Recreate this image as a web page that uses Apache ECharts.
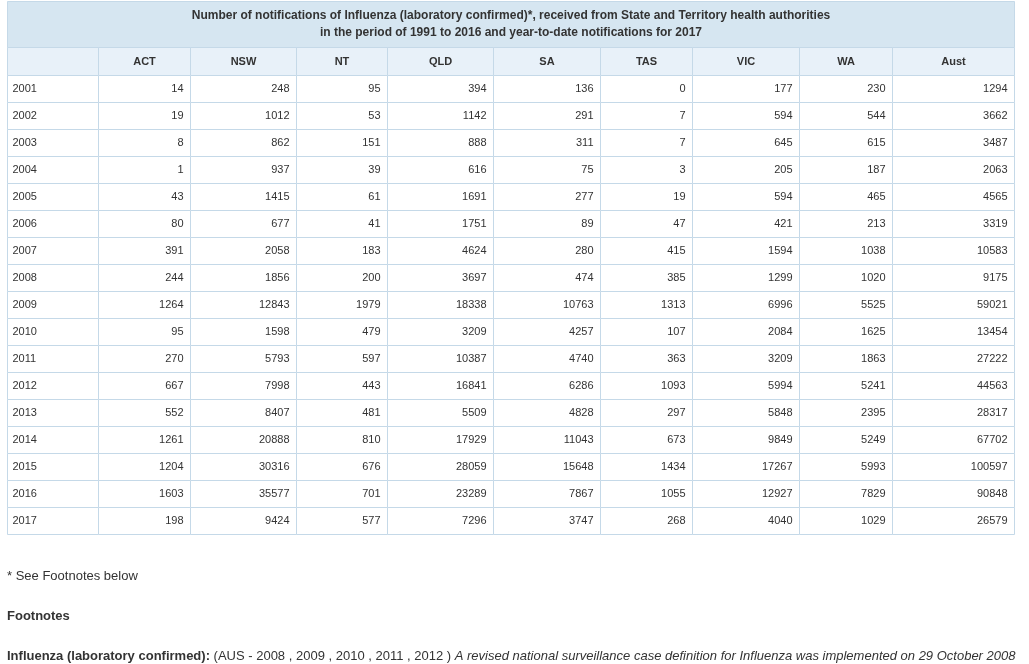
<!DOCTYPE html>
<html>
<head>
<meta charset="utf-8">
<script src="https://cdn.jsdelivr.net/npm/echarts@6/dist/echarts.min.js"></script>
<style>
  html, body { margin: 0; padding: 0; background: #fff; }
  #chart { width: 1029px; height: 664px; }
</style>
</head>
<body>
<div id="chart"></div>
<script>
// Table content
const years = ['2001', '2002', '2003', '2004', '2005', '2006', '2007', '2008', '2009',
  '2010', '2011', '2012', '2013', '2014', '2015', '2016', '2017'];
const columns = ['', 'ACT', 'NSW', 'NT', 'QLD', 'SA', 'TAS', 'VIC', 'WA', 'Aust'];

const act = [14, 19, 8, 1, 43, 80, 391, 244, 1264, 95, 270, 667, 552, 1261, 1204, 1603, 198];
const nsw = [248, 1012, 862, 937, 1415, 677, 2058, 1856, 12843, 1598, 5793, 7998, 8407, 20888, 30316, 35577, 9424];
const nt = [95, 53, 151, 39, 61, 41, 183, 200, 1979, 479, 597, 443, 481, 810, 676, 701, 577];
const qld = [394, 1142, 888, 616, 1691, 1751, 4624, 3697, 18338, 3209, 10387, 16841, 5509, 17929, 28059, 23289, 7296];
const sa = [136, 291, 311, 75, 277, 89, 280, 474, 10763, 4257, 4740, 6286, 4828, 11043, 15648, 7867, 3747];
const tas = [0, 7, 7, 3, 19, 47, 415, 385, 1313, 107, 363, 1093, 297, 673, 1434, 1055, 268];
const vic = [177, 594, 645, 205, 594, 421, 1594, 1299, 6996, 2084, 3209, 5994, 5848, 9849, 17267, 12927, 4040];
const wa = [230, 544, 615, 187, 465, 213, 1038, 1020, 5525, 1625, 1863, 5241, 2395, 5249, 5993, 7829, 1029];
const aust = [1294, 3662, 3487, 2063, 4565, 3319, 10583, 9175, 59021, 13454, 27222, 44563, 28317, 67702, 100597, 90848, 26579];

const titleLines = [
  'Number of notifications of Influenza (laboratory confirmed)*, received from State and Territory health authorities',
  'in the period of 1991 to 2016 and year-to-date notifications for 2017'
];
const footnoteRef = '* See Footnotes below';
const footnoteHeading = 'Footnotes';
const footnoteLabel = 'Influenza (laboratory confirmed):';
const footnoteYears = '(AUS - 2008 , 2009 , 2010 , 2011 , 2012 )';
const footnoteText = 'A revised national surveillance case definition for Influenza was implemented on 29 October 2008';

// Layout: column edges on the hidden x value axis
const colEdges = [0, 91, 183, 289, 380, 486, 593, 685, 792, 885, 1007];
const FONT = 'Arial, "Liberation Sans", sans-serif';
const BORDER = '#c5d9e8';

const stateSeries = [act, nsw, nt, qld, sa, tas, vic, wa, aust];

// Build cell data: [column index, row index, text]
const cellData = [];
years.forEach((yr, r) => {
  cellData.push([0, r, yr]);
  stateSeries.forEach((arr, c) => cellData.push([c + 1, r, String(arr[r])]));
});
const headerData = columns.map((name, c) => [c, 0, name]);

const chart = echarts.init(document.getElementById('chart'), null, { renderer: 'canvas' });

function cellRect(api, c, r) {
  const left = api.coord([colEdges[c], r])[0];
  const right = api.coord([colEdges[c + 1], r])[0];
  const cy = api.coord([0, r])[1];
  const h = api.size([0, 1])[1];
  return { left, right, cy, h };
}

chart.setOption({
  animation: false,
  grid: { left: 7.5, right: 14.5, top: 75.5, height: 459, containLabel: false },
  xAxis: { type: 'value', min: 0, max: 1007, show: false },
  yAxis: { type: 'category', data: years, inverse: true, show: false },
  graphic: [
    {
      type: 'rect',
      shape: { x: 7.5, y: 1.5, width: 1007, height: 46 },
      style: { fill: '#d6e6f1', stroke: BORDER, lineWidth: 1 },
      z: 1
    },
    {
      type: 'text',
      x: 511, y: 16,
      style: {
        text: titleLines[0], align: 'center', verticalAlign: 'middle',
        font: 'bold 12px ' + FONT, fill: '#333'
      },
      z: 2
    },
    {
      type: 'text',
      x: 511, y: 33,
      style: {
        text: titleLines[1], align: 'center', verticalAlign: 'middle',
        font: 'bold 12px ' + FONT, fill: '#333'
      },
      z: 2
    },
    {
      type: 'text',
      x: 7, y: 576,
      style: { text: footnoteRef, verticalAlign: 'middle', font: '13px ' + FONT, fill: '#333' }
    },
    {
      type: 'text',
      x: 7, y: 616,
      style: { text: footnoteHeading, verticalAlign: 'middle', font: 'bold 13px ' + FONT, fill: '#333' }
    },
    {
      type: 'text',
      x: 7, y: 656,
      style: {
        text: '{b|' + footnoteLabel + '} ' + footnoteYears + ' {i|' + footnoteText + '}',
        verticalAlign: 'middle',
        font: '13px ' + FONT,
        fill: '#333',
        rich: {
          b: { fontWeight: 'bold', fontSize: 13, fontFamily: FONT, fill: '#333' },
          i: { fontStyle: 'italic', fontSize: 13, fontFamily: FONT, fill: '#333' }
        }
      }
    }
  ],
  series: [
    {
      name: 'header',
      type: 'custom',
      coordinateSystem: 'cartesian2d',
      data: headerData,
      encode: { x: 0, y: 1 },
      silent: true,
      renderItem: function (params, api) {
        const c = api.value(0);
        const { left, right, cy, h } = cellRect(api, c, 0);
        const top = cy - h / 2 - 28;
        return {
          type: 'group',
          children: [
            {
              type: 'rect',
              shape: { x: left, y: top, width: right - left, height: 28 },
              style: { fill: '#e8f1f9', stroke: BORDER, lineWidth: 1 }
            },
            {
              type: 'text',
              x: (left + right) / 2, y: top + 14,
              style: {
                text: headerData[params.dataIndex][2], align: 'center', verticalAlign: 'middle',
                font: 'bold 11px ' + FONT, fill: '#333'
              }
            }
          ]
        };
      }
    },
    {
      name: 'cells',
      type: 'custom',
      coordinateSystem: 'cartesian2d',
      data: cellData,
      encode: { x: 0, y: 1 },
      silent: true,
      renderItem: function (params, api) {
        const c = api.value(0);
        const r = api.value(1);
        const { left, right, cy, h } = cellRect(api, c, r);
        const txt = cellData[params.dataIndex][2];
        const isYear = c === 0;
        return {
          type: 'group',
          children: [
            {
              type: 'rect',
              shape: { x: left, y: cy - h / 2, width: right - left, height: h },
              style: { fill: '#fff', stroke: BORDER, lineWidth: 1 }
            },
            {
              type: 'text',
              x: isYear ? left + 5 : right - 7, y: cy,
              style: {
                text: txt, align: isYear ? 'left' : 'right', verticalAlign: 'middle',
                font: '11px ' + FONT, fill: '#333'
              }
            }
          ]
        };
      }
    }
  ]
});
</script>
</body>
</html>
